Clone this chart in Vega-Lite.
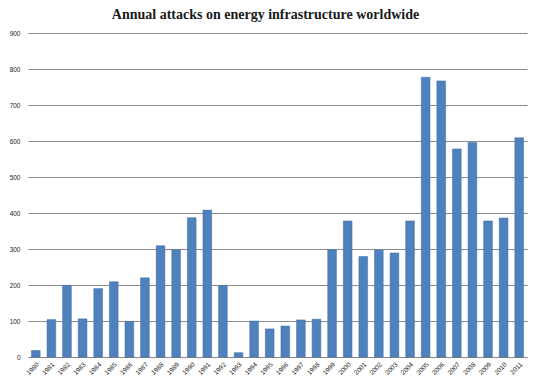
{
  "$schema": "https://vega.github.io/schema/vega-lite/v6.json",
  "width": 499,
  "height": 324,
  "autosize": {"type": "none"},
  "padding": {"left": 28, "top": 33, "right": 13, "bottom": 32},
  "background": "white",
  "title": {
    "text": "Annual attacks on energy infrastructure worldwide",
    "font": "Liberation Serif",
    "fontSize": 14,
    "fontWeight": "bold",
    "color": "#1a1a1a",
    "anchor": "middle",
    "offset": 8,
    "dx": -12
  },
  "data": {
    "values": [
      {"year": "1980", "attacks": 18},
      {"year": "1981", "attacks": 104},
      {"year": "1982", "attacks": 199},
      {"year": "1983", "attacks": 106},
      {"year": "1984", "attacks": 190},
      {"year": "1985", "attacks": 209},
      {"year": "1986", "attacks": 99},
      {"year": "1987", "attacks": 220},
      {"year": "1988", "attacks": 309},
      {"year": "1989", "attacks": 298},
      {"year": "1990", "attacks": 387},
      {"year": "1991", "attacks": 408},
      {"year": "1992", "attacks": 199},
      {"year": "1993", "attacks": 12},
      {"year": "1994", "attacks": 100},
      {"year": "1995", "attacks": 78},
      {"year": "1996", "attacks": 86},
      {"year": "1997", "attacks": 103},
      {"year": "1998", "attacks": 105},
      {"year": "1999", "attacks": 298},
      {"year": "2000", "attacks": 378},
      {"year": "2001", "attacks": 279},
      {"year": "2002", "attacks": 297},
      {"year": "2003", "attacks": 289},
      {"year": "2004", "attacks": 378},
      {"year": "2005", "attacks": 777},
      {"year": "2006", "attacks": 767},
      {"year": "2007", "attacks": 578},
      {"year": "2008", "attacks": 596},
      {"year": "2009", "attacks": 378},
      {"year": "2010", "attacks": 386},
      {"year": "2011", "attacks": 609}
    ]
  },
  "mark": {"type": "bar", "color": "#4F81BD", "stroke": "#3f6fa8", "strokeWidth": 0.5},
  "encoding": {
    "x": {
      "field": "year",
      "type": "ordinal",
      "sort": null,
      "scale": {"paddingInner": 0.44, "paddingOuter": 0.22},
      "axis": {
        "title": null,
        "labelAngle": -45,
        "labelFont": "Liberation Sans",
        "labelFontSize": 6.5,
        "labelColor": "#222",
        "ticks": false,
        "labelPadding": 4,
        "domain": true,
        "domainColor": "#868686",
        "grid": false
      }
    },
    "y": {
      "field": "attacks",
      "type": "quantitative",
      "scale": {"domain": [0, 900]},
      "axis": {
        "title": null,
        "values": [0, 100, 200, 300, 400, 500, 600, 700, 800, 900],
        "labelFont": "Liberation Sans",
        "labelFontSize": 6.5,
        "labelColor": "#222",
        "ticks": false,
        "labelPadding": 8,
        "domain": false,
        "grid": true,
        "gridColor": "#8c8c8c",
        "gridWidth": 1
      }
    }
  },
  "config": {
    "view": {"stroke": null}
  }
}
